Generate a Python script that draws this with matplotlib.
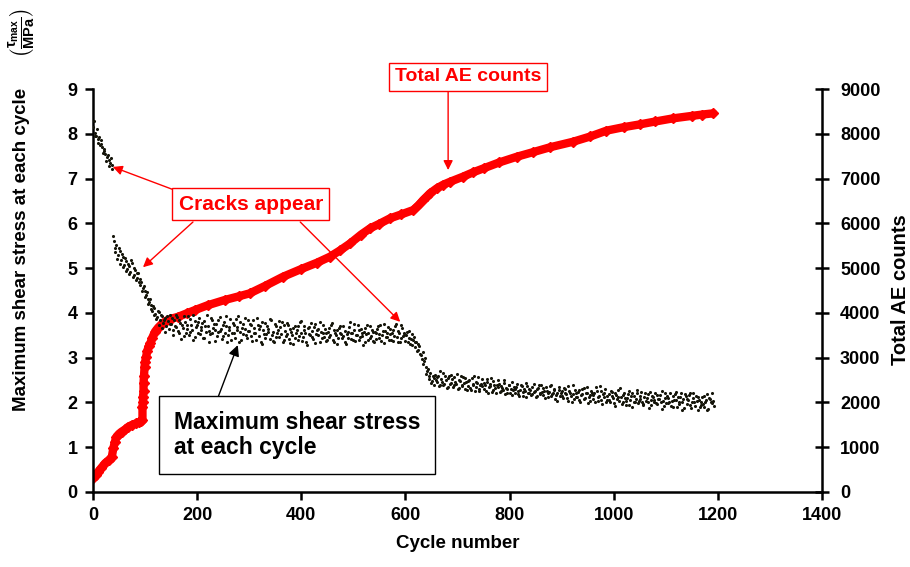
import matplotlib
matplotlib.use('Agg')
import matplotlib.pyplot as plt
import numpy as np

plt.rcParams['font.family'] = ['Liberation Sans', 'DejaVu Sans']
plt.rcParams['font.weight'] = 'bold'
plt.rcParams['mathtext.fontset'] = 'custom'
plt.rcParams['mathtext.rm'] = 'Liberation Sans:bold'
plt.rcParams['mathtext.it'] = 'Liberation Sans:bold'
plt.rcParams['mathtext.bf'] = 'Liberation Sans:bold'

# ---- data: maximum shear stress, sampled on cycles 0,3,6,... and 1,4,7,... ----
stress_cycles_a = np.arange(0, 1194, 3)
stress_a = [
    8.15, 8.02, 7.95, 7.88, 7.92, 7.78, 7.70, 7.62, 7.55, 7.48,
    7.42, 7.35, 7.30, 5.72, 5.45, 5.52, 5.30, 5.38, 5.18, 5.25,
    5.08, 5.15, 4.98, 5.05, 4.92, 5.12, 4.85, 4.95, 4.78, 4.88,
    4.62, 4.70, 4.55, 4.48, 4.40, 4.32, 4.25, 4.18, 4.05, 4.12,
    3.98, 3.90, 4.02, 3.85, 3.92, 3.78, 3.88, 3.70, 3.82, 3.95,
    3.75, 3.62, 3.85, 3.68, 3.90, 3.55, 3.78, 3.72, 3.48, 3.80,
    3.65, 3.92, 3.58, 3.74, 3.40, 3.82, 3.69, 3.55, 3.88, 3.62,
    3.78, 3.45, 3.70, 3.95, 3.60, 3.52, 3.84, 3.66, 3.38, 3.75,
    3.58, 3.90, 3.64, 3.48, 3.80, 3.70, 3.35, 3.62, 3.86, 3.55,
    3.72, 3.44, 3.68, 3.92, 3.58, 3.40, 3.76, 3.63, 3.50, 3.85,
    3.60, 3.72, 3.38, 3.66, 3.54, 3.88, 3.48, 3.70, 3.30, 3.62,
    3.78, 3.52, 3.64, 3.42, 3.84, 3.58, 3.36, 3.70, 3.55, 3.46,
    3.68, 3.80, 3.40, 3.60, 3.52, 3.74, 3.32, 3.58, 3.66, 3.44,
    3.56, 3.70, 3.48, 3.82, 3.38, 3.62, 3.54, 3.28, 3.68, 3.50,
    3.60, 3.42, 3.75, 3.52, 3.64, 3.36, 3.58, 3.72, 3.46, 3.55,
    3.40, 3.66, 3.50, 3.78, 3.34, 3.56, 3.62, 3.44, 3.70, 3.52,
    3.48, 3.60, 3.30, 3.58, 3.68, 3.42, 3.54, 3.76, 3.38, 3.50,
    3.62, 3.46, 3.55, 3.28, 3.66, 3.52, 3.40, 3.70, 3.48, 3.58,
    3.36, 3.54, 3.64, 3.44, 3.72, 3.50, 3.32, 3.60, 3.46, 3.68,
    3.52, 3.40, 3.62, 3.48, 3.75, 3.36, 3.56, 3.44, 3.66, 3.50,
    3.38, 3.58, 3.45, 3.30, 3.52, 3.40, 3.24, 3.35, 3.18, 3.26,
    3.05, 3.12, 2.92, 2.80, 2.70, 2.58, 2.66, 2.48, 2.55, 2.62,
    2.45, 2.58, 2.38, 2.52, 2.66, 2.42, 2.50, 2.35, 2.60, 2.44,
    2.52, 2.38, 2.46, 2.64, 2.32, 2.48, 2.40, 2.56, 2.30, 2.45,
    2.36, 2.50, 2.28, 2.42, 2.58, 2.34, 2.44, 2.26, 2.40, 2.52,
    2.30, 2.38, 2.46, 2.22, 2.36, 2.55, 2.28, 2.40, 2.20, 2.34,
    2.42, 2.25, 2.32, 2.50, 2.18, 2.30, 2.38, 2.22, 2.45, 2.28,
    2.20, 2.34, 2.26, 2.15, 2.40, 2.24, 2.30, 2.12, 2.36, 2.22,
    2.28, 2.18, 2.42, 2.25, 2.14, 2.32, 2.20, 2.38, 2.16, 2.26,
    2.34, 2.12, 2.24, 2.40, 2.18, 2.28, 2.08, 2.22, 2.35, 2.15,
    2.25, 2.10, 2.30, 2.18, 2.04, 2.26, 2.14, 2.38, 2.08, 2.20,
    2.12, 2.28, 2.02, 2.18, 2.32, 2.10, 2.22, 1.98, 2.16, 2.26,
    2.08, 2.20, 2.34, 2.04, 2.14, 2.25, 1.96, 2.12, 2.30, 2.06,
    2.18, 2.02, 2.24, 2.10, 1.92, 2.16, 2.28, 2.04, 2.12, 2.00,
    2.22, 1.95, 2.10, 2.26, 2.06, 1.90, 2.14, 2.02, 2.20, 1.98,
    2.08, 2.24, 1.94, 2.12, 2.04, 2.18, 1.88, 2.06, 2.15, 2.00,
    2.22, 1.96, 2.08, 2.16, 1.86, 2.04, 2.20, 1.98, 2.10, 2.02,
    1.92, 2.14, 2.06, 2.24, 1.90, 2.02, 2.12, 1.84, 2.08, 2.18,
    1.96, 2.05, 2.20, 1.88, 2.10, 2.00, 2.14, 1.82, 2.06, 1.94,
    2.12, 1.90, 2.02, 2.18, 1.86, 2.08, 1.98, 2.04,
]
stress_cycles_b = np.arange(1, 1193, 3)
stress_b = [
    8.28, 7.96, 8.10, 7.80, 7.74, 7.86, 7.58, 7.66, 7.40, 7.52,
    7.28, 7.45, 7.22, 5.60, 5.35, 5.20, 5.46, 5.10, 5.32, 5.02,
    5.22, 4.94, 5.10, 4.86, 5.18, 4.80, 5.00, 4.74, 4.90, 4.68,
    4.76, 4.50, 4.60, 4.35, 4.46, 4.20, 4.30, 4.08, 4.15, 3.96,
    3.86, 4.05, 3.74, 3.96, 3.66, 3.84, 3.58, 3.94, 3.64, 3.76,
    3.88, 3.50, 3.70, 3.96, 3.60, 3.84, 3.42, 3.66, 3.92, 3.56,
    3.74, 3.50, 3.86, 3.62, 3.96, 3.46, 3.72, 3.80, 3.52, 3.68,
    3.44, 3.82, 3.58, 3.70, 3.36, 3.88, 3.54, 3.76, 3.62, 3.48,
    3.84, 3.60, 3.42, 3.74, 3.56, 3.94, 3.50, 3.68, 3.40, 3.78,
    3.54, 3.86, 3.62, 3.36, 3.80, 3.66, 3.52, 3.88, 3.44, 3.60,
    3.76, 3.48, 3.84, 3.56, 3.40, 3.72, 3.64, 3.34, 3.80, 3.52,
    3.44, 3.70, 3.58, 3.86, 3.50, 3.38, 3.76, 3.46, 3.62, 3.82,
    3.52, 3.34, 3.72, 3.48, 3.78, 3.42, 3.64, 3.50, 3.30, 3.70,
    3.62, 3.40, 3.80, 3.54, 3.46, 3.70, 3.36, 3.66, 3.52, 3.78,
    3.46, 3.68, 3.32, 3.62, 3.50, 3.80, 3.44, 3.56, 3.64, 3.38,
    3.58, 3.46, 3.72, 3.40, 3.62, 3.50, 3.30, 3.66, 3.54, 3.44,
    3.70, 3.36, 3.52, 3.44, 3.80, 3.56, 3.40, 3.62, 3.50, 3.72,
    3.40, 3.64, 3.48, 3.58, 3.34, 3.74, 3.54, 3.44, 3.62, 3.38,
    3.58, 3.42, 3.70, 3.52, 3.38, 3.60, 3.76, 3.46, 3.56, 3.40,
    3.64, 3.56, 3.38, 3.70, 3.46, 3.60, 3.34, 3.72, 3.48, 3.56,
    3.50, 3.34, 3.60, 3.42, 3.28, 3.46, 3.36, 3.14, 3.30, 3.08,
    2.96, 2.86, 3.00, 2.64, 2.74, 2.52, 2.44, 2.60, 2.40, 2.50,
    2.56, 2.36, 2.70, 2.46, 2.40, 2.58, 2.32, 2.54, 2.42, 2.62,
    2.34, 2.56, 2.42, 2.30, 2.50, 2.60, 2.36, 2.44, 2.54, 2.28,
    2.48, 2.32, 2.54, 2.38, 2.26, 2.46, 2.56, 2.30, 2.42, 2.36,
    2.44, 2.26, 2.52, 2.34, 2.42, 2.24, 2.48, 2.32, 2.38, 2.50,
    2.24, 2.36, 2.28, 2.44, 2.32, 2.20, 2.40, 2.30, 2.16, 2.34,
    2.30, 2.42, 2.18, 2.28, 2.36, 2.14, 2.26, 2.44, 2.20, 2.30,
    2.16, 2.34, 2.24, 2.12, 2.30, 2.40, 2.18, 2.24, 2.32, 2.10,
    2.26, 2.20, 2.36, 2.14, 2.22, 2.30, 2.16, 2.04, 2.28, 2.20,
    2.14, 2.32, 2.20, 2.10, 2.36, 2.22, 2.02, 2.18, 2.28, 2.12,
    2.24, 2.06, 2.16, 2.30, 2.08, 2.20, 2.34, 2.12, 2.04, 2.22,
    2.16, 2.02, 2.26, 2.12, 2.36, 2.06, 2.18, 2.22, 2.00, 2.14,
    2.06, 2.26, 2.14, 1.98, 2.20, 2.08, 2.12, 2.32, 1.96, 2.16,
    2.10, 2.04, 2.18, 1.94, 2.14, 2.22, 2.00, 2.08, 2.28, 2.04,
    2.14, 2.00, 1.96, 2.20, 2.10, 2.02, 2.24, 1.94, 2.12, 2.06,
    1.98, 2.16, 2.08, 2.00, 2.26, 1.92, 2.10, 2.14, 1.98, 2.20,
    2.04, 1.90, 2.18, 2.06, 2.12, 1.96, 2.22, 2.00, 1.88, 2.14,
    2.08, 2.16, 1.94, 2.02, 2.22, 1.92, 2.04, 2.12, 1.90, 2.00,
    1.96, 2.14, 2.06, 1.84, 2.10, 2.00, 2.20, 1.92,
]

# ---- data: total AE counts ----
ae_cycles = [0, 5, 10, 16, 23, 30, 36, 39, 42, 45, 50, 55, 62, 68, 75, 82, 88, 93,
             95, 95, 96, 96, 97, 97, 98, 99, 100, 102, 104, 107, 110, 114, 119, 125,
             132, 140, 150, 164, 180, 196, 220, 253, 280, 301, 330, 365, 400, 430,
             455, 475, 494, 515, 532, 550, 570, 592, 615, 625, 634, 641, 647, 660,
             672, 686, 710, 730, 750, 780, 814, 845, 878, 922, 955, 986, 1020, 1050,
             1080, 1114, 1150, 1170, 1191]
ae_counts = [310, 380, 454, 540, 640, 710, 775, 975, 1120, 1235, 1300, 1347, 1400, 1458,
             1500, 1530, 1560, 1590, 1610, 1905, 2010, 2128, 2250, 2427, 2600, 2798,
             2900, 3021, 3150, 3250, 3320, 3450, 3580, 3670, 3752, 3820, 3870, 3915,
             3990, 4064, 4170, 4288, 4370, 4437, 4600, 4808, 4980, 5120, 5255, 5400,
             5553, 5750, 5888, 5990, 6110, 6200, 6297, 6400, 6520, 6600, 6670, 6780,
             6860, 6930, 7040, 7140, 7228, 7360, 7488, 7590, 7700, 7823, 7940, 8070,
             8150, 8210, 8275, 8345, 8400, 8430, 8457]

x_ticks = [0, 200, 400, 600, 800, 1000, 1200, 1400]
y_left_ticks = [0, 1, 2, 3, 4, 5, 6, 7, 8, 9]
y_right_ticks = [0, 1000, 2000, 3000, 4000, 5000, 6000, 7000, 8000, 9000]

RED = '#ff0000'
DOT = '#15150a'
fig = plt.figure(figsize=(9.1, 5.67), dpi=100)
ax = fig.add_axes([0.1022, 0.1323, 0.8011, 0.7107])
ax2 = ax.twinx()

ax2.plot(ae_cycles, ae_counts, color=RED, lw=6, marker='D', ms=5,
         solid_capstyle='round', zorder=2)
ax.scatter(stress_cycles_a, stress_a, s=5, color=DOT, marker='o', linewidths=0, zorder=3)
ax.scatter(stress_cycles_b, stress_b, s=5, color=DOT, marker='o', linewidths=0, zorder=3)

ax.set_zorder(ax2.get_zorder() + 1)
ax.patch.set_visible(False)

ax.set_xlim(0, 1400)
ax.set_ylim(0, 9)
ax2.set_ylim(0, 9000)
ax.set_xticks(x_ticks)
ax.set_yticks(y_left_ticks)
ax2.set_yticks(y_right_ticks)

for s in ['top', 'right']:
    ax.spines[s].set_visible(False)
for s in ['top', 'left', 'bottom']:
    ax2.spines[s].set_visible(False)
for s in ['left', 'bottom']:
    ax.spines[s].set_linewidth(1.8)
ax2.spines['right'].set_linewidth(1.8)

ax.tick_params(axis='both', direction='out', length=6, width=1.8, labelsize=13, pad=5)
ax2.tick_params(axis='y', direction='inout', length=10, width=1.8, labelsize=13, pad=8)
for lab in ax.get_xticklabels() + ax.get_yticklabels() + ax2.get_yticklabels():
    lab.set_fontweight('bold')

ax.set_xlabel('Cycle number', fontsize=13.5, fontweight='bold', labelpad=8)
# left axis title: text plus unit fraction above it
fig.text(22 / 910, 1 - 88 / 567, 'Maximum shear stress at each cycle',
         rotation=90, ha='center', va='top', fontsize=13.5, fontweight='bold')
fig.text(22 / 910, 1 - 33 / 567, r'$\left(\frac{\tau_{max}}{MPa}\right)$',
         rotation=90, ha='center', va='center', fontsize=15, fontweight='bold')
fig.text(900 / 910, 1 - 290 / 567, 'Total AE counts', rotation=90, ha='center',
         va='center', fontsize=14.5, fontweight='bold')

red_box = dict(boxstyle='square,pad=0.3', fc='white', ec=RED, lw=1)
ax.text(720, 9.27, 'Total AE counts', color=RED, fontsize=14, fontweight='bold',
        ha='center', va='center', bbox=red_box, zorder=6, clip_on=False)
ax.annotate('', xy=(682, 7.19), xytext=(682, 8.93), annotation_clip=False,
            arrowprops=dict(arrowstyle='-|>', color=RED, lw=1, mutation_scale=14,
                            shrinkA=0, shrinkB=0), zorder=5)

ax.text(303, 6.43, 'Cracks appear', color=RED, fontsize=15, fontweight='bold',
        ha='center', va='center', bbox=red_box, zorder=6)
for start, tip in [((157, 6.74), (38, 7.26)), ((192, 6.03), (96, 5.02)),
                   ((398, 6.03), (590, 3.80))]:
    ax.annotate('', xy=tip, xytext=start,
                arrowprops=dict(arrowstyle='-|>', color=RED, lw=1, mutation_scale=14,
                                shrinkA=0, shrinkB=0), zorder=5)

ax.text(155, 1.27, 'Maximum shear stress\nat each cycle', color='black', fontsize=16.5,
        fontweight='bold', ha='left', va='center', linespacing=1.15,
        bbox=dict(boxstyle='square,pad=0.65', fc='white', ec='black', lw=1), zorder=6)
ax.annotate('', xy=(278, 3.28), xytext=(238, 2.05),
            arrowprops=dict(arrowstyle='-|>', color='black', lw=1, mutation_scale=16,
                            shrinkA=0, shrinkB=0), zorder=5)

fig.savefig('out.png', dpi=100)
